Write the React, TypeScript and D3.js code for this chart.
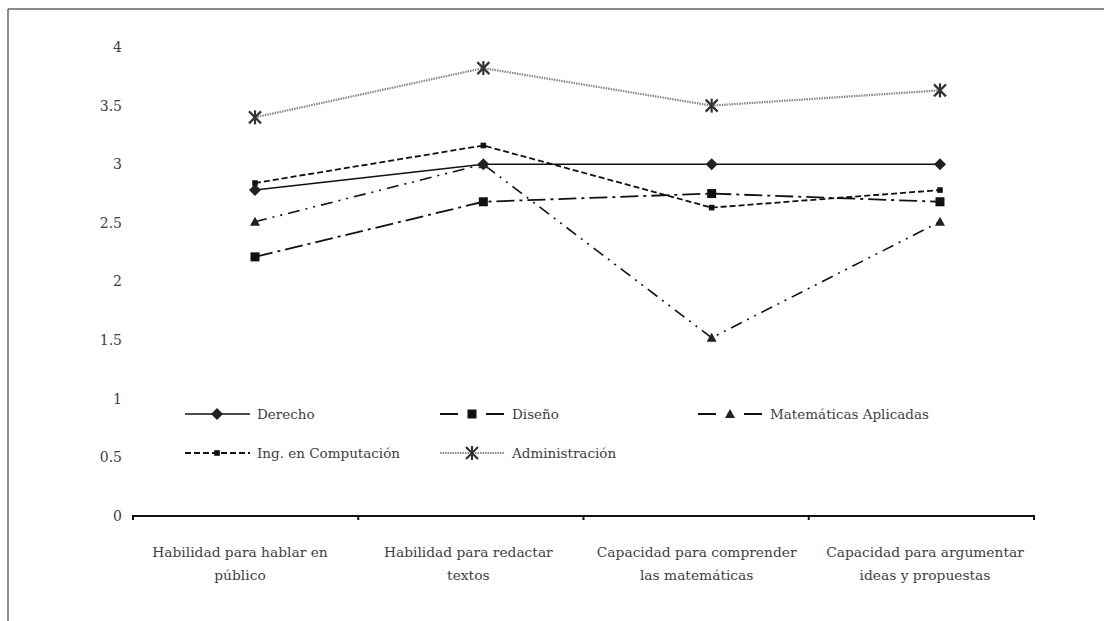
import React from "react";
import * as d3 from "d3";

const categories = [
  "Habilidad para hablar en público",
  "Habilidad para redactar textos",
  "Capacidad para comprender las matemáticas",
  "Capacidad para argumentar ideas y propuestas",
];
const categoryLines = [
  ["Habilidad para hablar en", "público"],
  ["Habilidad para redactar", "textos"],
  ["Capacidad para comprender", "las matemáticas"],
  ["Capacidad para argumentar", "ideas y propuestas"],
];
const yTicks = [0, 0.5, 1, 1.5, 2, 2.5, 3, 3.5, 4];

const derecho = [2.78, 3.0, 3.0, 3.0];
const diseno = [2.21, 2.68, 2.75, 2.68];
const matematicas = [2.51, 3.0, 1.52, 2.51];
const computacion = [2.84, 3.16, 2.63, 2.78];
const administracion = [3.4, 3.82, 3.5, 3.63];

const seriesNames = [
  "Derecho",
  "Diseño",
  "Matemáticas Aplicadas",
  "Ing. en Computación",
  "Administración",
];

type Style = { stroke: string; width: number; dash: string; marker: string };
const styles: Style[] = [
  { stroke: "#111", width: 1.6, dash: "", marker: "diamond" },
  { stroke: "#111", width: 1.8, dash: "18 5 3 5", marker: "square" },
  { stroke: "#111", width: 1.6, dash: "12 6 2 6 2 6", marker: "triangle" },
  { stroke: "#111", width: 1.8, dash: "6 3", marker: "smallsquare" },
  { stroke: "#888", width: 2.2, dash: "1.5 1", marker: "star" },
];

function Marker({ type, x, y }: { type: string; x: number; y: number }) {
  if (type === "diamond") {
    const s = 6;
    return <path d={`M${x},${y - s}L${x + s},${y}L${x},${y + s}L${x - s},${y}Z`} fill="#222" />;
  }
  if (type === "square") {
    const s = 4.5;
    return <rect x={x - s} y={y - s} width={2 * s} height={2 * s} fill="#111" />;
  }
  if (type === "smallsquare") {
    const s = 2.8;
    return <rect x={x - s} y={y - s} width={2 * s} height={2 * s} fill="#111" />;
  }
  if (type === "triangle") {
    const s = 5;
    return <path d={`M${x},${y - s}L${x + s},${y + s * 0.8}L${x - s},${y + s * 0.8}Z`} fill="#222" />;
  }
  const s = 6;
  return (
    <g stroke="#333" strokeWidth={2.2}>
      <line x1={x - s} y1={y - s} x2={x + s} y2={y + s} />
      <line x1={x - s} y1={y + s} x2={x + s} y2={y - s} />
      <line x1={x} y1={y - s - 1} x2={x} y2={y + s + 1} />
    </g>
  );
}

const FONT = "'DejaVu Serif', serif";

export default function App() {
  const W = 1104;
  const H = 621;
  const y = d3.scaleLinear().domain([0, 4]).range([516, 47]);
  const xBand = d3.scaleBand<string>().domain(categories).range([133, 1034]).padding(0);
  const xPt = d3.scalePoint<string>().domain(categories).range([255, 940]);
  const xLabel = d3.scalePoint<string>().domain(categories).range([240, 925]);
  const data = [derecho, diseno, matematicas, computacion, administracion];
  const line = d3
    .line<number>()
    .x((_, i) => xPt(categories[i]) as number)
    .y((d) => y(d));

  const textColor = "#404040";

  const legendPos = [
    { x: 185, y: 414 },
    { x: 440, y: 414 },
    { x: 698, y: 414 },
    { x: 185, y: 453 },
    { x: 440, y: 453 },
  ];

  const boundaries = [...categories.map((c) => xBand(c) as number), 1034];

  return (
    <svg
      width={W}
      height={H}
      style={{ position: "absolute", left: 0, top: 0, background: "#fff", fontFamily: FONT }}
    >
      <rect x={0} y={0} width={W} height={H} fill="#fff" />
      <line x1={8} y1={9} x2={W} y2={9} stroke="#666" strokeWidth={1.5} />
      <line x1={8} y1={9} x2={8} y2={H} stroke="#444" strokeWidth={1.2} />

      {yTicks.map((t) => (
        <text
          key={t}
          x={122}
          y={y(t)}
          dy="0.35em"
          textAnchor="end"
          fontSize={14}
          fill={textColor}
          style={{ fontFamily: FONT }}
        >
          {String(t)}
        </text>
      ))}

      <line x1={133} y1={516} x2={1034} y2={516} stroke="#111" strokeWidth={2} />
      {boundaries.map((b, i) => (
        <line key={i} x1={b} y1={515} x2={b} y2={520} stroke="#111" strokeWidth={2} />
      ))}

      {categoryLines.map((ls, i) => {
        const cx = xLabel(categories[i]) as number;
        return ls.map((l, j) => (
          <text
            key={i + "-" + j}
            x={cx}
            y={557 + j * 23}
            textAnchor="middle"
            fontSize={13.8}
            fill={textColor}
            style={{ fontFamily: FONT }}
          >
            {l}
          </text>
        ));
      })}

      {data.map((vals, si) => (
        <g key={si}>
          <path
            d={line(vals) || ""}
            fill="none"
            stroke={styles[si].stroke}
            strokeWidth={styles[si].width}
            strokeDasharray={styles[si].dash}
          />
          {vals.map((v, i) => (
            <Marker key={i} type={styles[si].marker} x={xPt(categories[i]) as number} y={y(v)} />
          ))}
        </g>
      ))}

      {seriesNames.map((name, si) => {
        const p = legendPos[si];
        const split = si === 1 || si === 2;
        return (
          <g key={name}>
            {split ? (
              <>
                <line x1={p.x} y1={p.y} x2={p.x + 18} y2={p.y} stroke="#111" strokeWidth={2} />
                <line x1={p.x + 46} y1={p.y} x2={p.x + 64} y2={p.y} stroke="#111" strokeWidth={2} />
              </>
            ) : (
              <line
                x1={p.x}
                y1={p.y}
                x2={p.x + 65}
                y2={p.y}
                stroke={styles[si].stroke}
                strokeWidth={styles[si].width}
                strokeDasharray={styles[si].dash}
              />
            )}
            <Marker type={styles[si].marker} x={p.x + 32} y={p.y} />
            <text
              x={p.x + 72}
              y={p.y}
              dy="0.35em"
              fontSize={13.5}
              fill={textColor}
              style={{ fontFamily: FONT }}
            >
              {name}
            </text>
          </g>
        );
      })}
    </svg>
  );
}
